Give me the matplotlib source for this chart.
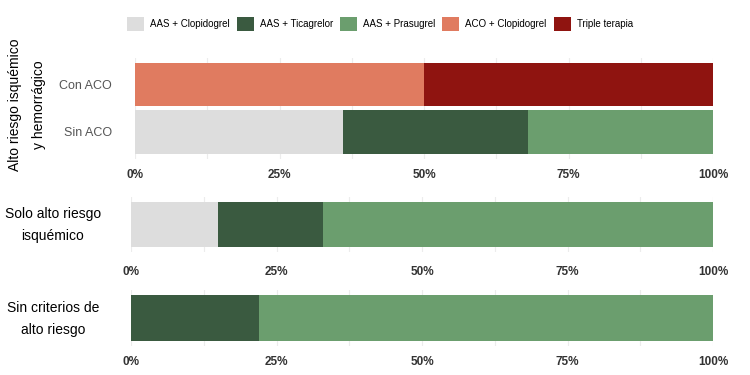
import matplotlib
matplotlib.use("Agg")
import matplotlib.pyplot as plt
from matplotlib.patches import Patch
from matplotlib.ticker import FuncFormatter, MultipleLocator

plt.rcParams['font.family'] = ['Liberation Sans', 'DejaVu Sans']
NARROW = ['Liberation Sans Narrow', 'Liberation Sans', 'DejaVu Sans']

series = ["AAS + Clopidogrel", "AAS + Ticagrelor", "AAS + Prasugrel",
          "ACO + Clopidogrel", "Triple terapia"]
colors = ["#dddddd", "#3a5a40", "#6b9e6e", "#e07b60", "#8f1410"]

top_rows = ["Sin ACO", "Con ACO"]
top_clopi = [36, 0]
top_tica = [32, 0]
top_pras = [32, 0]
top_aco = [0, 50]
top_triple = [0, 50]

mid_values = [15, 18, 67, 0, 0]
bot_values = [0, 22, 78, 0, 0]

panel_titles = ["Alto riesgo isquémico\ny hemorrágico",
                "Solo alto riesgo\nisquémico",
                "Sin criterios de\nalto riesgo"]

W, H = 750, 375
fig = plt.figure(figsize=(7.5, 3.75), dpi=100)


def px_axes(l, r, t, b):
    return fig.add_axes([l / W, 1 - b / H, (r - l) / W, (b - t) / H])


def style(ax, pad):
    ax.set_xlim(0, 100)
    ax.xaxis.set_major_locator(MultipleLocator(25))
    ax.xaxis.set_minor_locator(MultipleLocator(12.5))
    ax.xaxis.set_major_formatter(FuncFormatter(lambda v, p: f"{int(v)}%"))
    ax.grid(True, axis='x', which='both', color='#ececec', lw=0.8)
    ax.set_axisbelow(True)
    for s in ax.spines.values():
        s.set_visible(False)
    ax.tick_params(axis='both', which='both', length=0)
    ax.tick_params(axis='x', pad=pad, labelsize=8.5, labelcolor='#333333')
    for lab in ax.get_xticklabels():
        lab.set_fontweight('bold')
        lab.set_family(NARROW)


# Top panel
ax1 = px_axes(135, 713, 58, 159)
top_series = [top_clopi, top_tica, top_pras, top_aco, top_triple]
left = [0, 0]
for vals, c in zip(top_series, colors):
    ax1.barh(top_rows, vals, left=left, color=c, height=0.92)
    left = [a + b for a, b in zip(left, vals)]
ax1.set_ylim(-0.57, 1.56)
style(ax1, 7)
ax1.tick_params(axis='y', pad=16.5, labelsize=9, labelcolor='#555555')
fig.text(27 / W, 1 - 105 / H, panel_titles[0], rotation=90, ha='center',
         va='center', fontsize=10, linespacing=1.95, multialignment='center')

# Middle panel
ax2 = px_axes(131, 713, 197, 252)
left = 0
for v, c in zip(mid_values, colors):
    ax2.barh([0], [v], left=left, color=c, height=1.0)
    left += v
ax2.set_ylim(-0.61, 0.61)
ax2.set_yticks([])
style(ax2, 10)
fig.text(53 / W, 1 - 225 / H, panel_titles[1], ha='center', va='center',
         fontsize=10, linespacing=1.75, multialignment='center')

# Bottom panel
ax3 = px_axes(131, 713, 290, 346)
left = 0
for v, c in zip(bot_values, colors):
    ax3.barh([0], [v], left=left, color=c, height=1.0)
    left += v
ax3.set_ylim(-0.62, 0.62)
ax3.set_yticks([])
style(ax3, 7)
fig.text(53 / W, 1 - 319 / H, panel_titles[2], ha='center', va='center',
         fontsize=10, linespacing=1.75, multialignment='center')

handles = [Patch(facecolor=c, label=s) for s, c in zip(series, colors)]
fs = 7.0
fpx = fs * 100 / 72
fig.legend(handles=handles, loc='center', bbox_to_anchor=(380 / W, 1 - 24 / H),
           ncol=5, frameon=False, prop={'family': NARROW, 'size': fs},
           handlelength=17 / fpx, handleheight=19 / fpx,
           handletextpad=6 / fpx, columnspacing=7 / fpx)

fig.savefig("out.png", dpi=100)
